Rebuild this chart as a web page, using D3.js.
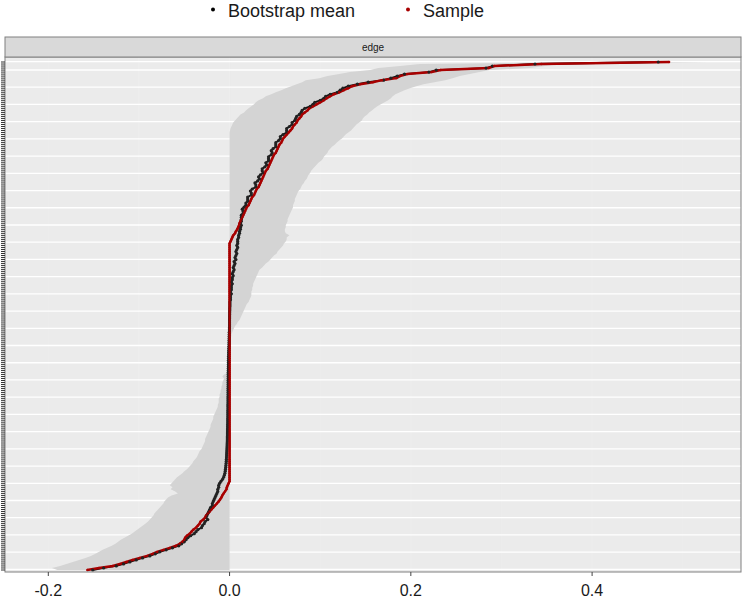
<!DOCTYPE html>
<html><head><meta charset="utf-8">
<script src="https://cdn.jsdelivr.net/npm/d3@7"></script>
<style>body{margin:0;background:#fff;} svg{display:block}</style>
</head><body><svg id="chart" width="744" height="599"></svg>
<script>
// ---- DATA (rows ordered from top of the panel to the bottom) ----
const xTickValues = [-0.2, 0.0, 0.2, 0.4];
const xTickLabels = ["-0.2", "0.0", "0.2", "0.4"];
const seriesNames = ["Bootstrap mean", "Sample"];
const stripLabel = "edge";

const sampleValues = [
0.485,0.344,0.292,0.286,0.233,0.223,0.196,0.188,0.184,0.168,
0.158,0.144,0.135,0.131,0.126,0.121,0.115,0.111,0.107,0.104,
0.100,0.096,0.092,0.088,0.086,0.083,0.080,0.079,0.077,0.075,
0.074,0.072,0.070,0.069,0.067,0.065,0.063,0.061,0.059,0.058,
0.057,0.055,0.054,0.053,0.052,0.051,0.049,0.048,0.047,0.046,
0.045,0.044,0.043,0.042,0.040,0.039,0.038,0.037,0.036,0.035,
0.034,0.033,0.032,0.030,0.029,0.028,0.027,0.025,0.024,0.023,
0.022,0.021,0.019,0.018,0.017,0.016,0.015,0.014,0.013,0.012,
0.011,0.0105,0.0095,0.0085,0.007,0.006,0.004,0.003,0.002,0.001,
0,0,0,0,0,0,0,0,0,0, 0,0,0,0,0,0,0,0,0,0,
0,0,0,0,0,0,0,0,0,0, 0,0,0,0,0,0,0,0,0,0,
0,0,0,0,0,0,0,0,0,0, 0,0,0,0,0,0,0,0,0,0,
0,0,0,0,0,0,0,0,0,0, 0,0,0,0,0,0,0,0,0,0,
0,0,0,0,0,0,0,0,0,0, 0,0,0,0,0,0,0,0,0,0,
0,0,0,0,0,0,0,0,0,0, 0,0,0,0,0,0,0,0,0,
-0.001,-0.002,-0.003,-0.0035,-0.005,-0.0065,-0.008,-0.009,-0.0105,-0.012,
-0.014,-0.016,-0.018,-0.020,-0.022,-0.024,-0.026,-0.027,-0.029,-0.032,
-0.033,-0.035,-0.037,-0.040,-0.042,-0.044,-0.047,-0.049,-0.050,-0.052,
-0.055,-0.059,-0.066,-0.073,-0.080,-0.085,-0.091,-0.099,-0.107,-0.114,
-0.121,-0.129,-0.144,-0.157
];

const bootMeans = [
0.473,0.337,0.290,0.283,0.228,0.220,0.193,0.185,0.178,0.170,
0.153,0.141,0.131,0.125,0.122,0.119,0.111,0.106,0.104,0.100,
0.094,0.092,0.089,0.083,0.080,0.079,0.077,0.074,0.073,0.072,
0.069,0.069,0.066,0.063,0.063,0.063,0.059,0.056,0.056,0.054,
0.051,0.051,0.051,0.048,0.046,0.047,0.046,0.043,0.043,0.043,
0.040,0.041,0.039,0.036,0.036,0.037,0.034,0.032,0.033,0.031,
0.028,0.029,0.029,0.025,0.023,0.024,0.024,0.020,0.020,0.020,
0.018,0.018,0.016,0.014,0.015,0.015,0.013,0.013,0.013,0.013,
0.012,0.013,0.012,0.012,0.011,0.011,0.010,0.010,0.009,0.009,
0.009,0.008,0.009,0.008,0.007,0.008,0.007,0.006,0.007,0.005,
0.006,0.005,0.004,0.005,0.004,0.003,0.004,0.003,0.003,0.002,
0.003,0.002,0.002,0.002,0.001,0.002,0.001,0.001,0.001,0.0005,
0.0005,0.0005,0.0003,0.0003,0.0002,0.0002,0.0001,0.0001,0,0,
0,0,-0.0002,-0.0002,-0.0003,-0.0003,-0.0004,-0.0004,-0.0005,-0.0005,
-0.0006,-0.0007,-0.0008,-0.0009,-0.001,-0.001,-0.0011,-0.0011,-0.0012,-0.0012,
-0.0013,-0.0013,-0.0014,-0.0014,-0.0015,-0.0015,-0.0015,-0.0015,-0.0016,-0.0016,
-0.0016,-0.0016,-0.0017,-0.0017,-0.0017,-0.0017,-0.0018,-0.0018,-0.0018,-0.0018,
-0.0019,-0.0019,-0.0019,-0.002,-0.002,-0.002,-0.002,-0.0021,-0.0021,-0.0021,
-0.0022,-0.0022,-0.0023,-0.0023,-0.0024,-0.0024,-0.0025,-0.0025,-0.0026,-0.0027,
-0.0028,-0.0029,-0.003,-0.0031,-0.0032,-0.0033,-0.0034,-0.0035,-0.0036,-0.0038,
-0.004,-0.0042,-0.0045,-0.0048,-0.0052,-0.0058,-0.0066,-0.0078,-0.0095,
-0.011,-0.012,-0.012,-0.013,-0.013,-0.014,-0.015,-0.016,-0.017,-0.018,
-0.019,-0.019,-0.021,-0.022,-0.023,-0.024,-0.025,-0.026,-0.024,-0.027,
-0.028,-0.030,-0.031,-0.035,-0.037,-0.039,-0.043,-0.046,-0.048,-0.050,
-0.053,-0.056,-0.063,-0.070,-0.077,-0.082,-0.088,-0.096,-0.103,-0.110,
-0.117,-0.125,-0.139,-0.151
];

const ciLower = [
0.400,0.210,0.188,0.164,0.155,0.133,0.121,0.108,0.099,0.084,
0.080,0.074,0.068,0.062,0.057,0.051,0.046,0.040,0.037,0.032,
0.029,0.027,0.024,0.021,0.018,0.016,0.012,0.010,0.008,0.006,
0.004,0.003,0.002,0.001,0.0005,0,0,0,0,0,
0,0,0,0,0,0,0,0,0,0, 0,0,0,0,0,0,0,0,0,0,
0,0,0,0,0,0,0,0,0,0, 0,0,0,0,0,0,0,0,0,0,
0,0,0,0,0,0,0,0,0,0,
0,0,0,0,0,0,0,0,0,0, 0,0,0,0,0,0,0,0,0,0,
0,0,0,0,0,0,0,0,0,0, 0,0,0,0,0,0,0,0,0,0,
0,0,0,0,0,0,0,0,0,0, 0,0,0,0,0,0,0,0,0,0,
0,0,
-0.0005,-0.001,-0.002,-0.006,-0.008,-0.006,-0.007,-0.008,
-0.008,-0.009,-0.009,-0.010,-0.010,-0.011,-0.011,-0.012,-0.012,-0.012,
-0.013,-0.013,-0.014,-0.015,-0.016,-0.017,-0.018,-0.018,-0.019,-0.020,
-0.021,-0.021,-0.022,-0.023,-0.024,-0.025,-0.026,-0.027,-0.027,-0.028,
-0.029,-0.030,-0.031,-0.033,-0.034,-0.035,-0.036,-0.038,-0.040,-0.041,
-0.043,-0.045,-0.047,-0.050,-0.052,-0.055,-0.058,-0.060,-0.062,
-0.064,-0.066,-0.063,-0.065,-0.060,-0.057,-0.064,-0.068,-0.070,-0.072,
-0.073,-0.075,-0.077,-0.079,-0.081,-0.083,-0.084,-0.086,-0.088,-0.090,
-0.093,-0.096,-0.099,-0.102,-0.105,-0.108,-0.112,-0.116,-0.120,-0.123,
-0.126,-0.130,-0.135,-0.140,-0.144,-0.148,-0.153,-0.159,-0.166,-0.173,
-0.180,-0.187,-0.196,-0.190
];

const ciUpper = [
0.528,0.365,0.348,0.331,0.287,0.276,0.265,0.254,0.246,0.238,
0.226,0.214,0.206,0.199,0.193,0.188,0.183,0.180,0.178,0.175,
0.171,0.167,0.163,0.160,0.157,0.154,0.152,0.149,0.147,0.146,
0.143,0.140,0.138,0.136,0.134,0.131,0.128,0.126,0.124,0.121,
0.118,0.116,0.113,0.111,0.109,0.108,0.106,0.104,0.103,0.101,
0.098,0.096,0.094,0.092,0.090,0.089,0.087,0.086,0.085,0.083,
0.082,0.080,0.079,0.078,0.076,0.075,0.074,0.073,0.072,0.072,
0.071,0.070,0.070,0.069,0.068,0.067,0.066,0.065,0.064,0.064,
0.063,0.062,0.062,0.061,0.061,0.062,0.066,0.063,0.063,0.062,
0.060,0.059,0.057,0.055,0.053,0.052,0.049,0.047,0.045,0.043,
0.040,0.038,0.036,0.033,0.032,0.031,0.030,0.029,0.028,0.027,
0.026,0.026,0.025,0.025,0.024,0.024,0.024,0.023,0.022,0.021,
0.019,0.018,0.017,0.016,0.015,0.014,0.013,0.012,0.011,0.009,
0.008,0.006,0.005,0.004,0.003,0.002,0.002,0.001,0.001,0.0005,
0,0,0,0,0,0,0,0,0,0, 0,0,0,0,0,0,0,0,0,0,
0,0,0,0,0,0,0,0,0,0, 0,0,0,0,0,0,0,0,0,0,
0,0,0,0,0,0,0,0,0,0, 0,0,0,0,0,0,0,0,0,0,
0,0,0,0,0,0,0,0,0,
0,0,0,0,0,0,0,0,0,0, 0,0,0,0,0,0,0,0,0,0,
0,0,0,0,0,0,0,0,0,0, 0,0,0,0,0,0,0,0,0,0,
0,0,0,0
];

const N = Math.min(sampleValues.length, bootMeans.length, ciLower.length, ciUpper.length);
const edgeIds = d3.range(N).map(i => "edge " + (i + 1));
const rows = edgeIds.map((id, i) => ({
  id, sample: sampleValues[i], mean: bootMeans[i], lo: ciLower[i], hi: ciUpper[i]
}));

// ---- LAYOUT ----
const FONT = "'Liberation Sans', Arial, Helvetica, sans-serif";
const RED = "#a80000";
const panel = {left: 5, right: 741, top: 57, bottom: 572};
const strip = {top: 37, bottom: 57};

const svg = d3.select("#chart");
const x = d3.scaleLinear().domain([-0.2, 0.4]).range([48.3, 592.1]);
const y = d3.scalePoint().domain(edgeIds).range([62, 570]);

// panel background
svg.append("rect").attr("x", panel.left).attr("y", panel.top)
  .attr("width", panel.right - panel.left).attr("height", panel.bottom - panel.top)
  .attr("fill", "#ebebeb");

// vertical grid (major + minor), very faint
const gx = svg.append("g");
const vGrid = [-0.2, -0.1, 0, 0.1, 0.2, 0.3, 0.4, 0.5];
gx.selectAll("line.v").data(vGrid).join("line")
  .attr("x1", d => x(d)).attr("x2", d => x(d)).attr("y1", panel.top).attr("y2", panel.bottom)
  .attr("stroke", "#efefef").attr("stroke-width", 0.6);

// horizontal grid (visible banding of the per-edge grid lines)
const hLines = [61.7].concat(d3.range(0, 30).map(k => 70 + 17.22 * k));
gx.selectAll("line.h").data(hLines).join("line")
  .attr("x1", panel.left).attr("x2", panel.right).attr("y1", d => d).attr("y2", d => d)
  .attr("stroke", "#ffffff").attr("stroke-width", 1.3);

// CI ribbon
const area = d3.area().curve(d3.curveLinear)
  .y(d => y(d.id)).x0(d => x(d.lo)).x1(d => x(d.hi));
svg.append("path").datum(rows).attr("d", area).attr("fill", "#d4d4d4");

// lines
const lineMean = d3.line().x(d => x(d.mean)).y(d => y(d.id));
const lineSample = d3.line().x(d => x(d.sample)).y(d => y(d.id));
svg.append("path").datum(rows).attr("d", lineMean).attr("fill", "none")
  .attr("stroke", "#111").attr("stroke-width", 1.8);
svg.append("path").datum(rows).attr("d", lineSample).attr("fill", "none")
  .attr("stroke", RED).attr("stroke-width", 2.5);

// points
svg.append("g").selectAll("circle").data(rows).join("circle")
  .attr("cx", d => x(d.mean)).attr("cy", d => y(d.id)).attr("r", 1.6).attr("fill", "#222");
svg.append("g").selectAll("circle").data(rows).join("circle")
  .attr("cx", d => x(d.sample)).attr("cy", d => y(d.id)).attr("r", 1.2).attr("fill", RED);

// panel border
svg.append("rect").attr("x", panel.left).attr("y", panel.top)
  .attr("width", panel.right - panel.left).attr("height", panel.bottom - panel.top)
  .attr("fill", "none").attr("stroke", "#808080").attr("stroke-width", 1);

// strip
svg.append("rect").attr("x", panel.left).attr("y", strip.top)
  .attr("width", panel.right - panel.left).attr("height", strip.bottom - strip.top)
  .attr("fill", "#d9d9d9").attr("stroke", "#808080").attr("stroke-width", 1);
svg.append("text").attr("x", (panel.left + panel.right) / 2).attr("y", 50.5)
  .attr("text-anchor", "middle").attr("font-family", FONT).attr("font-size", 10)
  .attr("fill", "#1a1a1a").text(stripLabel);

// y ticks (one per edge, labels hidden)
svg.append("g").selectAll("line").data(edgeIds).join("line")
  .attr("x1", 1).attr("x2", panel.left).attr("y1", d => y(d)).attr("y2", d => y(d))
  .attr("stroke", "#333").attr("stroke-width", 1);

// x axis ticks + labels
const ax = svg.append("g");
ax.selectAll("line").data(xTickValues).join("line")
  .attr("x1", d => x(d)).attr("x2", d => x(d)).attr("y1", panel.bottom).attr("y2", panel.bottom + 4)
  .attr("stroke", "#444").attr("stroke-width", 1);
ax.selectAll("text").data(xTickValues).join("text")
  .attr("x", d => x(d)).attr("y", 596).attr("text-anchor", "middle")
  .attr("font-family", FONT).attr("font-size", 16).attr("fill", "#1a1a1a")
  .text((d, i) => xTickLabels[i]);

// legend
const legend = svg.append("g");
const legX = [213, 408], legColors = ["#000", RED];
legend.selectAll("circle").data(seriesNames).join("circle")
  .attr("cx", (d, i) => legX[i]).attr("cy", 9.5).attr("r", 2).attr("fill", (d, i) => legColors[i]);
legend.selectAll("text").data(seriesNames).join("text")
  .attr("x", (d, i) => legX[i] + 15).attr("y", 16.5)
  .attr("font-family", FONT).attr("font-size", 18).attr("fill", "#1a1a1a").text(d => d);
</script>
</body></html>
